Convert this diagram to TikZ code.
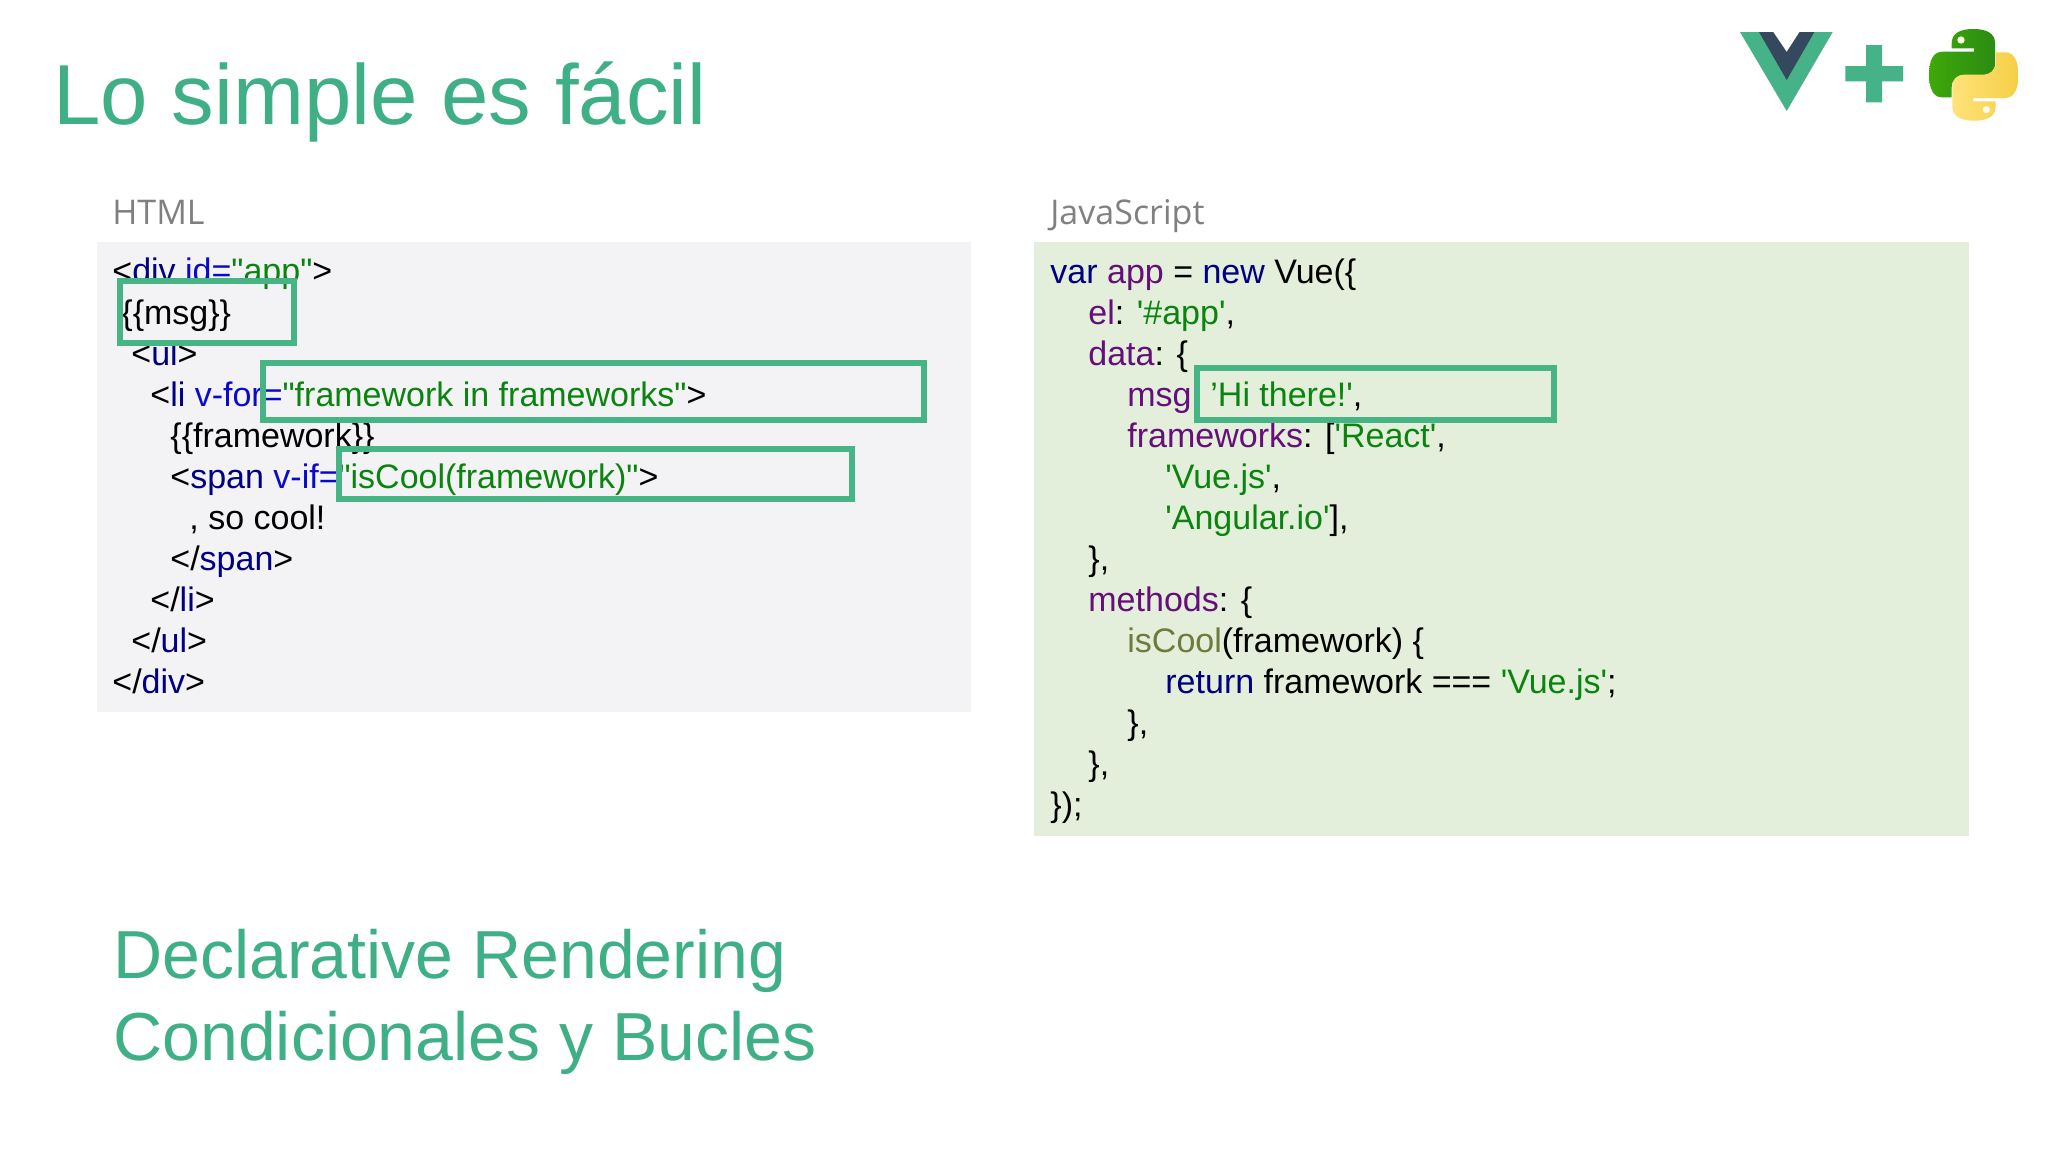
\documentclass[tikz,border=0pt]{standalone}
\usepackage{fontspec}
\newfontfamily\codefont{Liberation Sans}
\newfontfamily\headfont{Open Sans}
\usetikzlibrary{calc}
\definecolor{vuegreen}{HTML}{45B287}
\definecolor{vuedark}{HTML}{35495E}
\definecolor{titlegreen}{HTML}{3FAF85}
\definecolor{boxgreen}{HTML}{47B485}
\definecolor{htmlbg}{HTML}{F3F3F5}
\definecolor{jsbg}{HTML}{E3EEDB}
\definecolor{cgreen}{HTML}{0A840F}
\definecolor{cblue}{HTML}{0A0ACD}
\definecolor{cnavy}{HTML}{000080}
\definecolor{cpurple}{HTML}{660E7A}
\definecolor{colive}{HTML}{6F7A3C}
\definecolor{pygreenA}{HTML}{3FA80A}
\definecolor{pygreenB}{HTML}{2A8C12}
\definecolor{pyyellowA}{HTML}{F5CF45}
\definecolor{pyyellowB}{HTML}{FFE27A}
\newcommand\cG[1]{\textcolor{cgreen}{#1}}
\newcommand\cB[1]{\textcolor{cblue}{#1}}
\newcommand\cN[1]{\textcolor{cnavy}{#1}}
\newcommand\cP[1]{\textcolor{cpurple}{#1}}
\newcommand\cO[1]{\textcolor{colive}{#1}}
\newcommand\pysnake{(695,100) .. controls (695,70) and (720,57) .. (760,57)
  .. controls (800,57) and (825,70) .. (825,100) -- (825,160)
  .. controls (825,182) and (810,195) .. (790,195) -- (735,195)
  .. controls (710,195) and (695,210) .. (695,232) -- (695,262) -- (665,262)
  .. controls (640,262) and (627,235) .. (627,195)
  .. controls (627,150) and (640,125) .. (668,125) -- (762,125) -- (762,115) -- (695,115) -- cycle}
\tikzset{
  x=0.5pt,y=-0.5pt,
  code/.style={anchor=base west,inner sep=0pt,font=\codefont\fontsize{17}{20}\selectfont,text=black},
  heading/.style={anchor=base west,inner sep=0pt,font=\headfont\fontsize{17}{20}\selectfont,text=black!50},
  bigtext/.style={anchor=base west,inner sep=0pt,font=\codefont\fontsize{34}{40}\selectfont,text=titlegreen},
  hilite/.style={draw=boxgreen,line width=2.9pt},
}
\begin{document}
\begin{tikzpicture}
\useasboundingbox (0,0) rectangle (2048,1152);
\fill[white] (0,0) rectangle (2048,1152);
\node[bigtext,font=\codefont\fontsize{42.6}{50}\selectfont] (title) at (53,124) {Lo simple es fácil};
\node[heading] (hhtml) at (112,224) {HTML};
\node[heading] (hjs) at (1050,224) {JavaScript};
\fill[htmlbg] (97,242) rectangle (971,712);
\fill[jsbg] (1034,242) rectangle (1969,836);
% HTML
\node[code] (h1) at (112,282) {<\cN{div} \cB{id=}\cG{"app"}>};
\node[code] (h2) at (121,324) {\{\{msg\}\}};
\node[code] (h3) at (131,365) {<\cN{ul}>};
\node[code] (h4) at (150,406) {<\cN{li} \cB{v-for=}\cG{"framework in frameworks"}>};
\node[code] (h5) at (170,447) {\{\{framework\}\}};
\node[code] (h6) at (170,488) {<\cN{span} \cB{v-if=}\cG{"isCool(framework)"}>};
\node[code] (h7) at (189,529) {, so cool!};
\node[code] (h8) at (170,570) {</\cN{span}>};
\node[code] (h9) at (150,611) {</\cN{li}>};
\node[code] (h10) at (131,652) {</\cN{ul}>};
\node[code] (h11) at (112,693) {</\cN{div}>};
% JS
\node[code] (j1) at (1050,283) {\cN{var} \cP{app} = \cN{new} Vue(\{};
\node[code] (j2) at (1088,324) {\cP{el}: \cG{'\#app'},};
\node[code] (j3) at (1088,365) {\cP{data}: \{};
\node[code] (j4) at (1127,406) {\cP{msg}};
\node[code] (j4b) at (1210,406) {\cG{’Hi there!'},};
\node[code] (j5) at (1127,447) {\cP{frameworks}: [\cG{'React'},};
\node[code] (j6) at (1165,488) {\cG{'Vue.js'},};
\node[code] (j7) at (1165,529) {\cG{'Angular.io'}],};
\node[code] (j8) at (1088,570) {\},};
\node[code] (j9) at (1088,611) {\cP{methods}: \{};
\node[code] (j10) at (1127,652) {\cO{isCool}(framework) \{};
\node[code] (j11) at (1165,693) {\cN{return} framework === \cG{'Vue.js'};};
\node[code] (j12) at (1127,734) {\},};
\node[code] (j13) at (1088,775) {\},};
\node[code] (j14) at (1050,816) {\});};
% highlights
\draw[hilite] (120,281) rectangle (294,343);
\draw[hilite] (263,363) rectangle (924,420);
\draw[hilite] (339,449) rectangle (852,499);
\draw[hilite] (1197,368) rectangle (1554,420);
% bottom
\node[bigtext] (b1) at (113,978) {Declarative Rendering};
\node[bigtext] (b2) at (113,1060) {Condicionales y Bucles};
% logos
\begin{scope}[shift={(1720,10)},x=0.16667pt,y=-0.16667pt]
  \fill[vuegreen] (60,66) -- (338,66) -- (200,303) -- cycle;
  \fill[vuedark] (117,66) -- (283,66) -- (200,210) -- cycle;
  \fill[white] (160,66) -- (238,66) -- (200,125) -- cycle;
  \fill[vuegreen] (376,168) -- (438,168) -- (438,105) -- (486,105) -- (486,168) -- (549,168) -- (549,214) -- (486,214) -- (486,277) -- (438,277) -- (438,214) -- (376,214) -- cycle;
  \shade[left color=pygreenA,right color=pygreenB] \pysnake;
  \shade[rotate around={180:(761,194.5)},left color=pyyellowB,right color=pyyellowA] \pysnake;
  \fill[white!90!yellow] (723,90) circle (11);
  \fill[white!90!yellow] (799,299) circle (11);
\end{scope}
\end{tikzpicture}
\end{document}
